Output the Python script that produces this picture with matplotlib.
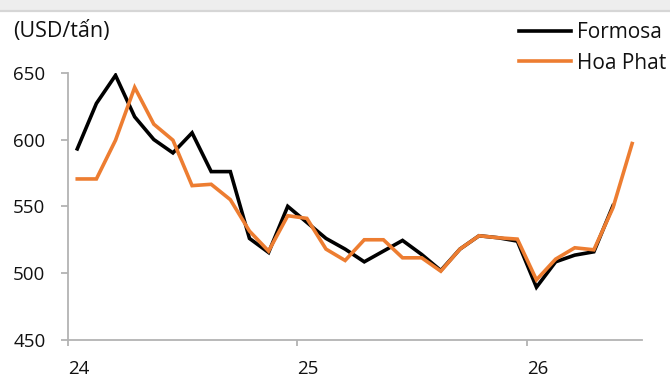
import matplotlib
matplotlib.use("Agg")
import matplotlib.pyplot as plt
import numpy as np
from matplotlib.patches import Rectangle
from matplotlib.lines import Line2D

plt.rcParams['font.family'] = ['Open Sans', 'DejaVu Sans']

# Monthly data, Jan 2024 .. Jun 2026 (30 months)
months = list(range(30))
formosa = [593, 627, 648, 617, 600, 590, 605, 576, 576, 526, 515.5, 550,
           538, 526, 518, 508.5, 516.5, 524.5, 514, 502, 518, 528, 526.5, 524,
           489.5, 508.5, 513.5, 516, 550.5, None]
hoa_phat = [570.5, 570.5, 599.5, 639, 611.5, 599.5, 565.5, 566.5, 555, 531.5, 516.5, 543,
            541, 518, 509.5, 525, 525, 511.5, 511.5, 501.5, 518, 528, 526.5, 525.5,
            495, 510.5, 519, 517.5, 549, 597]
year_ticks = [0, 12, 24]
year_labels = ["24", "25", "26"]
y_ticks = [450, 500, 550, 600, 650]
unit_label = "(USD/tấn)"
series_names = ["Formosa", "Hoa Phat"]

W, H = 670, 378
fig = plt.figure(figsize=(W / 100, H / 100), dpi=100)
fig.patch.set_facecolor('white')

# top gray band (cropped header)
fig.add_artist(Rectangle((0, 1 - 9.5 / H), 1, 9.5 / H, transform=fig.transFigure,
                         facecolor='#eeeeee', edgecolor='none'))
fig.add_artist(Line2D([0, 1], [1 - 11 / H, 1 - 11 / H], transform=fig.transFigure,
                      color='#d6d6d6', lw=1.6))

ax = fig.add_axes([67.7 / W, 1 - 340 / H, (641.7 - 67.7) / W, (340 - 72.7) / H])

x = np.array(months) + 0.5
fy = np.array([np.nan if v is None else v for v in formosa], dtype=float)
hy = np.array(hoa_phat, dtype=float)

ax.plot(x, fy, color='#000000', lw=2.6, solid_joinstyle='miter', label=series_names[0], zorder=3)
ax.plot(x, hy, color='#ED7D31', lw=2.6, solid_joinstyle='miter', label=series_names[1], zorder=4)

ax.set_xlim(0, 30)
ax.set_ylim(450, 650)
ax.set_xticks(year_ticks)
ax.set_xticklabels(year_labels, ha='left')
ax.set_yticks(y_ticks)
ax.set_yticklabels([str(v) for v in y_ticks])

for s in ['top', 'right']:
    ax.spines[s].set_visible(False)
for s in ['left', 'bottom']:
    ax.spines[s].set_color('#b3b3b3')
    ax.spines[s].set_linewidth(1.3)

ax.tick_params(axis='y', length=5, width=1.3, color='#b3b3b3', pad=11,
               labelsize=13.5, labelcolor='#111111')
ax.tick_params(axis='x', length=4.5, width=1.3, color='#b3b3b3', pad=10,
               labelsize=13.5, labelcolor='#111111')

fig.text(13 / W, 1 - 31 / H, unit_label, fontsize=15.5, color='#111111',
         ha='left', va='center')

handles = [Line2D([0], [0], color='#000000', lw=2.6),
           Line2D([0], [0], color='#ED7D31', lw=2.6)]
leg = fig.legend(handles, series_names, loc='upper left',
                 bbox_to_anchor=(519 / W, 1 - 22.5 / H), frameon=False,
                 fontsize=15, handlelength=2.5, handletextpad=0.28,
                 labelspacing=0.44, borderpad=0, borderaxespad=0)
for t in leg.get_texts():
    t.set_color('#111111')

fig.savefig('out.png', dpi=100, facecolor='white')
